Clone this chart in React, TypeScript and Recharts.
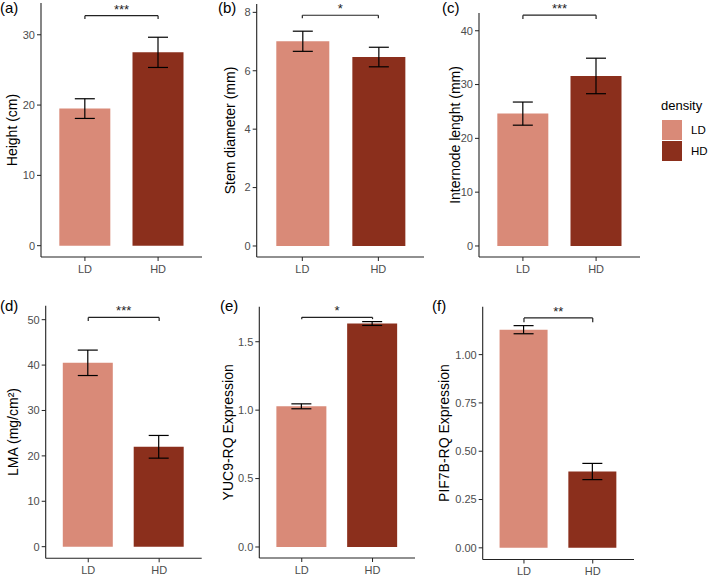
import { Bar, BarChart, Cell, ErrorBar, ReferenceLine, XAxis, YAxis } from 'recharts'

const categories = ['LD', 'HD']
const colors = ['#D98A78', '#8B2F1C']

const heightMeans = [19.5, 27.5]
const heightSe = [1.4, 2.15]
const stemMeans = [7.01, 6.47]
const stemSe = [0.345, 0.335]
const internodeMeans = [24.6, 31.6]
const internodeSe = [2.15, 3.3]
const lmaMeans = [40.5, 22.0]
const lmaSe = [2.8, 2.5]
const yuc9Means = [1.028, 1.633]
const yuc9Se = [0.018, 0.014]
const pif7bMeans = [1.129, 0.395]
const pif7bSe = [0.021, 0.042]

const heightTicks = [0, 10, 20, 30]
const stemTicks = [0, 2, 4, 6, 8]
const internodeTicks = [0, 10, 20, 30, 40]
const lmaTicks = [0, 10, 20, 30, 40, 50]
const yuc9Ticks = [0, 0.5, 1, 1.5]
const pif7bTicks = [0, 0.25, 0.5, 0.75, 1]

const stars = ['***', '*', '***', '***', '*', '**']
const bracketY = [32.72, 7.9, 42.9, 50.5, 1.678, 1.19]
const bracketTip = [32.25, 7.8, 42.18, 49.7, 1.665, 1.168]

const FONT = '"Liberation Sans", Arial, Helvetica, sans-serif'
const AXIS = '#222'

type PanelProps = {
  idx: number
  title: string
  means: number[]
  se: number[]
  ticks: number[]
  domain: [number, number]
  digits: number
  box: { left: number; top: number; width: number; height: number }
  plot: { l: number; t: number; r: number; b: number }
  titleX: number
}

function Panel({ idx, title, means, se, ticks, domain, digits, box, plot, titleX }: PanelProps) {
  const data = categories.map((c, i) => ({ density: c, value: means[i], se: se[i] }))
  const xh = 18
  const w = plot.r - plot.l
  const pad = w / 22
  const barSize = Math.round((0.7 * (w - 2 * pad)) / 2)
  const margin = {
    top: plot.t - box.top,
    right: box.left + box.width - plot.r,
    bottom: box.top + box.height - plot.b - xh,
    left: 0,
  }
  return (
    <div style={{ position: 'absolute', left: box.left, top: box.top }}>
      <BarChart width={box.width} height={box.height} data={data} margin={margin}>
        <XAxis
          dataKey="density"
          type="category"
          height={xh}
          padding={{ left: pad, right: pad }}
          tickSize={4}
          tickMargin={4}
          axisLine={{ stroke: AXIS, strokeWidth: 1.1 }}
          tickLine={{ stroke: AXIS }}
          tick={{ fontSize: 11, fill: '#4D4D4D' }}
        />
        <YAxis
          type="number"
          domain={domain}
          allowDataOverflow
          ticks={ticks}
          interval={0}
          width={plot.l - box.left}
          tickSize={4}
          tickMargin={2}
          tickFormatter={(v: number) => v.toFixed(digits)}
          axisLine={{ stroke: AXIS, strokeWidth: 1.1 }}
          tickLine={{ stroke: AXIS }}
          tick={{ fontSize: 11, fill: '#4D4D4D' }}
          label={{
            value: title,
            angle: -90,
            position: 'insideLeft',
            offset: titleX - box.left,
            style: { textAnchor: 'middle', fontSize: 14, fill: '#000' },
          }}
        />
        <Bar dataKey="value" barSize={barSize} isAnimationActive={false}>
          {data.map((d, i) => (
            <Cell key={d.density} fill={colors[i]} />
          ))}
          <ErrorBar dataKey="se" width={10} stroke="#000" strokeWidth={1.2} isAnimationActive={false} />
        </Bar>
        <ReferenceLine
          segment={[
            { x: 'LD', y: bracketY[idx] },
            { x: 'HD', y: bracketY[idx] },
          ]}
          stroke={AXIS}
          strokeWidth={1.2}
          label={{ value: stars[idx], position: 'top', offset: 2, fontSize: 13, fill: '#222' }}
        />
        <ReferenceLine
          segment={[
            { x: 'LD', y: bracketY[idx] },
            { x: 'LD', y: bracketTip[idx] },
          ]}
          stroke={AXIS}
          strokeWidth={1.2}
        />
        <ReferenceLine
          segment={[
            { x: 'HD', y: bracketY[idx] },
            { x: 'HD', y: bracketTip[idx] },
          ]}
          stroke={AXIS}
          strokeWidth={1.2}
        />
      </BarChart>
    </div>
  )
}

const letterStyle = { position: 'absolute' as const, fontSize: 15, lineHeight: '15px', color: '#000' }

export default function App() {
  return (
    <div
      style={{
        position: 'absolute',
        left: 0,
        top: 0,
        width: 709,
        height: 578,
        background: '#fff',
        fontFamily: FONT,
        overflow: 'hidden',
      }}
    >
      <Panel
        idx={0}
        title="Height (cm)"
        means={heightMeans}
        se={heightSe}
        ticks={heightTicks}
        domain={[-1.61, 34.52]}
        digits={0}
        box={{ left: 0, top: 0, width: 215, height: 285 }}
        plot={{ l: 41, t: 3, r: 202, b: 257 }}
        titleX={12.5}
      />
      <Panel
        idx={1}
        title="Stem diameter (mm)"
        means={stemMeans}
        se={stemSe}
        ticks={stemTicks}
        domain={[-0.377, 8.286]}
        digits={0}
        box={{ left: 215, top: 0, width: 225, height: 285 }}
        plot={{ l: 256.7, t: 4, r: 424, b: 257 }}
        titleX={230}
      />
      <Panel
        idx={2}
        title="Internode lenght (mm)"
        means={internodeMeans}
        se={internodeSe}
        ticks={internodeTicks}
        domain={[-2.05, 43.3]}
        digits={0}
        box={{ left: 440, top: 0, width: 210, height: 285 }}
        plot={{ l: 479, t: 13, r: 640, b: 257 }}
        titleX={455}
      />
      <Panel
        idx={3}
        title="LMA (mg/cm²)"
        means={lmaMeans}
        se={lmaSe}
        ticks={lmaTicks}
        domain={[-2.56, 53.08]}
        digits={0}
        box={{ left: 0, top: 285, width: 215, height: 293 }}
        plot={{ l: 45.7, t: 305.7, r: 201.7, b: 558.3 }}
        titleX={13}
      />
      <Panel
        idx={4}
        title="YUC9-RQ Expression"
        means={yuc9Means}
        se={yuc9Se}
        ticks={yuc9Ticks}
        domain={[-0.0805, 1.756]}
        digits={1}
        box={{ left: 215, top: 285, width: 215, height: 293 }}
        plot={{ l: 259.3, t: 306.7, r: 415, b: 558 }}
        titleX={228}
      />
      <Panel
        idx={5}
        title="PIF7B-RQ Expression"
        means={pif7bMeans}
        se={pif7bSe}
        ticks={pif7bTicks}
        domain={[-0.0604, 1.248]}
        digits={2}
        box={{ left: 430, top: 285, width: 210, height: 293 }}
        plot={{ l: 482.7, t: 306.7, r: 634, b: 559.5 }}
        titleX={444}
      />

      <div style={{ ...letterStyle, left: 0, top: 0 }}>(a)</div>
      <div style={{ ...letterStyle, left: 218, top: 0 }}>(b)</div>
      <div style={{ ...letterStyle, left: 442, top: 0 }}>(c)</div>
      <div style={{ ...letterStyle, left: 0, top: 298 }}>(d)</div>
      <div style={{ ...letterStyle, left: 220, top: 298 }}>(e)</div>
      <div style={{ ...letterStyle, left: 432, top: 298 }}>(f)</div>

      <div style={{ position: 'absolute', left: 661, top: 98, fontSize: 13, lineHeight: '16px' }}>density</div>
      {categories.map((c, i) => (
        <div key={c}>
          <div
            style={{
              position: 'absolute',
              left: 662,
              top: 120 + i * 21,
              width: 20,
              height: 20,
              background: colors[i],
            }}
          />
          <div
            style={{
              position: 'absolute',
              left: 691,
              top: 123 + i * 21,
              fontSize: 11.5,
              lineHeight: '14px',
              color: '#000',
            }}
          >
            {c}
          </div>
        </div>
      ))}
    </div>
  )
}
